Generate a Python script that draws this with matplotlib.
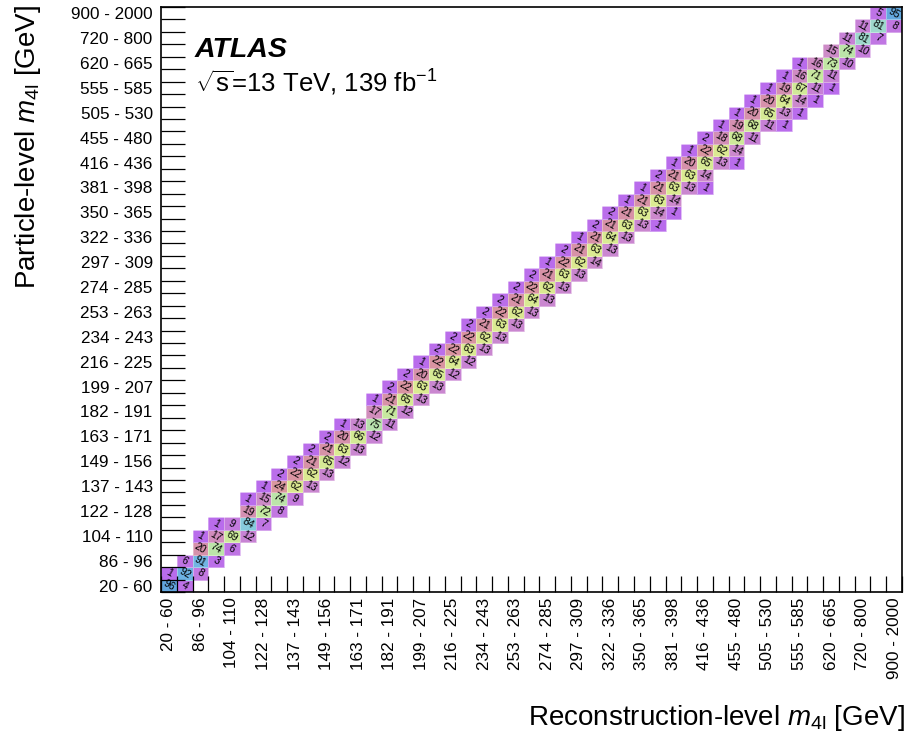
import numpy as np
import matplotlib
matplotlib.use("Agg")
import matplotlib.pyplot as plt
from matplotlib.colors import LinearSegmentedColormap

plt.rcParams['font.family'] = ['Liberation Sans', 'DejaVu Sans']
plt.rcParams['mathtext.fontset'] = 'custom'
plt.rcParams['mathtext.rm'] = 'Liberation Sans'
plt.rcParams['mathtext.it'] = 'Liberation Sans:italic'
plt.rcParams['mathtext.bf'] = 'Liberation Sans:bold'

# m4l bins, only every second bin carries a label
n_bins = 47
bin_labels = ["20 - 60", "86 - 96", "104 - 110", "122 - 128", "137 - 143",
              "149 - 156", "163 - 171", "182 - 191", "199 - 207", "216 - 225",
              "234 - 243", "253 - 263", "274 - 285", "297 - 309", "322 - 336",
              "350 - 365", "381 - 398", "416 - 436", "455 - 480", "505 - 530",
              "555 - 585", "620 - 665", "720 - 800", "900 - 2000"]

# migration matrix in %, per particle-level bin: first reco bin + values
row_start = [0, 0, 1, 2, 2, 3, 5, 5, 6, 7, 8, 9, 10, 11, 13, 13, 14, 15, 16, 17,
             18, 19, 20, 21, 22, 23, 24, 25, 26, 27, 28, 29, 30, 31, 32, 33, 34,
             35, 36, 37, 38, 39, 40, 42, 43, 44, 45]
row_vals = [
    [96, 4],
    [1, 92, 8],
    [6, 91, 3],
    [20, 74, 6],
    [1, 17, 69, 12],
    [1, 9, 84, 7],
    [19, 72, 8],
    [1, 15, 74, 9],
    [1, 24, 62, 13],
    [2, 22, 62, 13],
    [2, 21, 65, 12],
    [2, 21, 63, 13],
    [2, 20, 66, 12],
    [1, 13, 75, 11],
    [17, 71, 12],
    [1, 21, 65, 13],
    [2, 22, 63, 13],
    [2, 20, 65, 12],
    [1, 22, 64, 12],
    [2, 22, 63, 13],
    [2, 22, 62, 13],
    [2, 21, 63, 13],
    [2, 22, 62, 13],
    [2, 21, 64, 13],
    [2, 22, 62, 13],
    [2, 21, 63, 13],
    [1, 22, 62, 14],
    [2, 21, 63, 13],
    [1, 21, 64, 13],
    [2, 21, 63, 13, 1],
    [2, 21, 63, 14, 1],
    [1, 21, 63, 14],
    [1, 21, 63, 13, 1],
    [2, 21, 63, 14],
    [1, 20, 65, 13, 1],
    [1, 22, 62, 14],
    [2, 18, 68, 11],
    [1, 19, 68, 11, 1],
    [1, 20, 65, 13, 1],
    [1, 20, 64, 14, 1],
    [1, 19, 67, 11, 1],
    [1, 16, 71, 11],
    [1, 16, 73, 10],
    [15, 74, 10],
    [11, 81, 7],
    [11, 81, 8],
    [5, 95],
]

mig = np.full((n_bins, n_bins), np.nan)
for j, (s, vals) in enumerate(zip(row_start, row_vals)):
    mig[j, s:s + len(vals)] = vals

# pastel palette: purple -> pink -> yellow -> green -> blue
pal = LinearSegmentedColormap.from_list("mig", [
    (0.00, (0.72, 0.42, 0.93)),
    (0.08, (0.76, 0.47, 0.88)),
    (0.14, (0.80, 0.54, 0.80)),
    (0.22, (0.85, 0.58, 0.63)),
    (0.45, (0.86, 0.78, 0.56)),
    (0.63, (0.86, 0.92, 0.57)),
    (0.72, (0.77, 0.91, 0.63)),
    (0.76, (0.71, 0.88, 0.69)),
    (0.81, (0.63, 0.85, 0.80)),
    (0.85, (0.51, 0.78, 0.88)),
    (0.92, (0.43, 0.70, 0.89)),
    (1.00, (0.34, 0.60, 0.85)),
])

fig = plt.figure(figsize=(9.07, 7.35), dpi=100)
ax = fig.add_axes([0.1775, 0.1946, 0.817, 0.7959])

edges = np.arange(n_bins + 1)
ax.pcolormesh(edges, edges, np.ma.masked_invalid(mig), cmap=pal, vmin=0, vmax=100,
              edgecolors=(1, 1, 1, 0.35), linewidth=0.6)

for j in range(n_bins):
    for i in range(n_bins):
        if not np.isnan(mig[j, i]):
            ax.text(i + 0.5, j + 0.5, "%d" % mig[j, i], ha="center", va="center",
                    rotation=-30, rotation_mode="anchor", fontsize=7.5)

ax.set_xlim(0, n_bins)
ax.set_ylim(0, n_bins)

centers = np.arange(0, n_bins, 2) + 0.5
ax.set_xticks(edges, labels=[""] * len(edges))
ax.set_yticks(edges, labels=[""] * len(edges))
ax.set_xticks(centers, labels=bin_labels, minor=True, rotation=90)
ax.set_yticks(centers, labels=bin_labels, minor=True)
ax.tick_params(axis="x", which="major", direction="in", length=11.5, width=0.9)
ax.tick_params(axis="y", which="major", direction="in", length=17, width=0.9)
ax.tick_params(which="minor", length=0, labelsize=12.3)
ax.tick_params(axis="x", which="minor", pad=4)
ax.tick_params(axis="y", which="minor", pad=6)
for sp in ax.spines.values():
    sp.set_linewidth(1.2)

fig.text(0.998, 0.0136, r"Reconstruction-level $m_{\mathrm{4l}}$ [GeV]",
         ha="right", va="baseline", fontsize=20)
fig.text(0.031, 0.993, r"Particle-level $m_{\mathrm{4l}}$ [GeV]",
         ha="center", va="top", rotation=90, fontsize=20)

fig.text(0.215, 0.9224, "ATLAS", weight="bold", style="italic", fontsize=20.5,
         va="baseline")
fig.text(0.215, 0.8748, r"$\sqrt{\mathrm{s}}$=13 TeV, 139 fb$^{-1}$", fontsize=18.5,
         va="baseline")

fig.savefig("out.png", dpi=100)
